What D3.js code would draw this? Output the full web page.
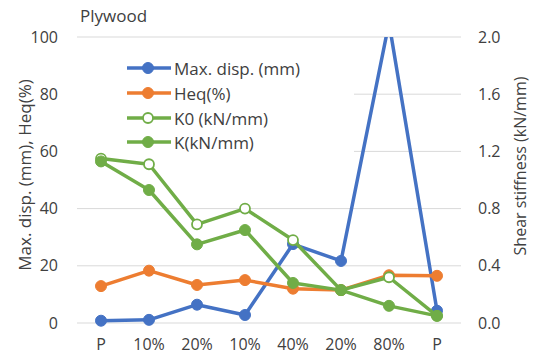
<!DOCTYPE html>
<html>
<head>
<meta charset="utf-8">
<script src="https://cdn.jsdelivr.net/npm/d3@7"></script>
<style>
  html, body { margin: 0; padding: 0; background: #fff; }
  svg { display: block; }
  text { font-family: "Open Sans", Lato, sans-serif; fill: #404040; }
</style>
</head>
<body>
<svg id="chart" width="535" height="360"></svg>
<script>
// Loading steps along the x axis
const categories = ["P", "10%", "20%", "10%", "40%", "20%", "80%", "P"];

// Left axis series
const maxDisp = [0.8, 1.1, 6.4, 2.8, 27.6, 21.7, 105, 4.3];   // mm
const heq     = [12.9, 18.3, 13.3, 15.0, 12.0, 11.5, 16.7, 16.5]; // %

// Right axis series (kN/mm)
const k0 = [1.15, 1.11, 0.69, 0.80, 0.58, 0.23, 0.32, 0.05];
const k  = [1.13, 0.93, 0.55, 0.65, 0.28, 0.23, 0.12, 0.05];

const leftTicks  = [0, 20, 40, 60, 80, 100];
const rightTicks = [0, 0.4, 0.8, 1.2, 1.6, 2.0];

const seriesNames = ["Max. disp. (mm)", "Heq(%)", "K0 (kN/mm)", "K(kN/mm)"];
const colors = { blue: "#4472C4", orange: "#ED7D31", green: "#70AD47" };
const FONT = "'Open Sans', Lato, sans-serif";

const svg = d3.select("#chart");
const plot = { left: 77, right: 461, top: 37, bottom: 323 };

const x = d3.scaleBand()
  .domain(d3.range(categories.length))
  .range([plot.left, plot.right]);
const cx = i => x(i) + x.bandwidth() / 2;

const yL = d3.scaleLinear().domain([0, 100]).range([plot.bottom, plot.top]);
const yR = d3.scaleLinear().domain([0, 2.0]).range([plot.bottom, plot.top]);

// Horizontal gridlines
svg.append("g")
  .selectAll("line")
  .data(leftTicks)
  .join("line")
  .attr("x1", plot.left).attr("x2", plot.right)
  .attr("y1", d => yL(d)).attr("y2", d => yL(d))
  .attr("stroke", "#d9d9d9").attr("stroke-width", 1);

const styleTicks = g => g.selectAll("text")
  .attr("font-size", 16).attr("fill", "#404040").attr("font-family", FONT);

// Left axis labels
svg.append("g")
  .attr("transform", "translate(58,0)")
  .call(d3.axisLeft(yL).tickValues(leftTicks).tickSize(0).tickPadding(0))
  .call(g => g.select(".domain").remove())
  .call(styleTicks);

// Right axis labels
svg.append("g")
  .attr("transform", "translate(478,0)")
  .call(d3.axisRight(yR).tickValues(rightTicks).tickFormat(d3.format(".1f")).tickSize(0).tickPadding(0))
  .call(g => g.select(".domain").remove())
  .call(styleTicks);

// Category axis labels
svg.append("g")
  .attr("transform", "translate(0,339)")
  .call(d3.axisBottom(x).tickFormat(i => categories[i]).tickSize(0).tickPadding(0))
  .call(g => g.select(".domain").remove())
  .call(styleTicks);

// Axis titles
svg.append("text")
  .attr("transform", "translate(24,175) rotate(-90)")
  .attr("text-anchor", "middle").attr("dominant-baseline", "central")
  .attr("font-size", 17).attr("fill", "#000")
  .text("Max. disp. (mm), Heq(%)");

svg.append("text")
  .attr("transform", "translate(520,166) rotate(-90)")
  .attr("text-anchor", "middle").attr("dominant-baseline", "central")
  .attr("font-size", 16).attr("fill", "#000")
  .text("Shear stiffness (kN/mm)");

svg.append("text")
  .attr("x", 80).attr("y", 22)
  .attr("font-size", 17).attr("fill", "#000")
  .text("Plywood");

// Legend backdrop hides the gridlines behind it
const legend = { x: 77, y: 47, w: 277, h: 108 };
svg.append("rect")
  .attr("x", legend.x).attr("y", legend.y)
  .attr("width", legend.w).attr("height", legend.h)
  .attr("fill", "#fff");

// Series, clipped to the plot area so the 80% peak is cut at the top
svg.append("defs").append("clipPath").attr("id", "plotClip")
  .append("rect")
  .attr("x", 0).attr("y", plot.top)
  .attr("width", 535).attr("height", plot.bottom - plot.top + 20);

const series = [
  { values: maxDisp, y: yL, color: colors.blue, open: false },
  { values: heq,     y: yL, color: colors.orange, open: false },
  { values: k0,      y: yR, color: colors.green, open: true },
  { values: k,       y: yR, color: colors.green, open: false }
];

const gSeries = svg.append("g").attr("clip-path", "url(#plotClip)");
series.forEach(s => {
  const line = d3.line().x((d, i) => cx(i)).y(d => s.y(d));
  gSeries.append("path")
    .datum(s.values)
    .attr("d", line)
    .attr("fill", "none")
    .attr("stroke", s.color)
    .attr("stroke-width", 3.5)
    .attr("stroke-linejoin", "round");
  gSeries.append("g")
    .selectAll("circle")
    .data(s.values)
    .join("circle")
    .attr("cx", (d, i) => cx(i))
    .attr("cy", d => s.y(d))
    .attr("r", s.open ? 5 : 5.5)
    .attr("fill", s.open ? "#fff" : s.color)
    .attr("stroke", s.color)
    .attr("stroke-width", s.open ? 1.8 : 1);
});

// Legend entries
const legendRows = [68, 93, 118, 142];
series.forEach((s, i) => {
  const g = svg.append("g").attr("transform", `translate(0,${legendRows[i]})`);
  g.append("line")
    .attr("x1", 127).attr("x2", 171)
    .attr("stroke", s.color).attr("stroke-width", 3.5);
  g.append("circle")
    .attr("cx", 148).attr("cy", 0)
    .attr("r", s.open ? 5 : 5.5)
    .attr("fill", s.open ? "#fff" : s.color)
    .attr("stroke", s.color)
    .attr("stroke-width", s.open ? 1.8 : 1);
  g.append("text")
    .attr("x", 174).attr("y", 0)
    .attr("dominant-baseline", "central")
    .attr("font-size", 17).attr("fill", "#000")
    .text(seriesNames[i]);
});
</script>
</body>
</html>
